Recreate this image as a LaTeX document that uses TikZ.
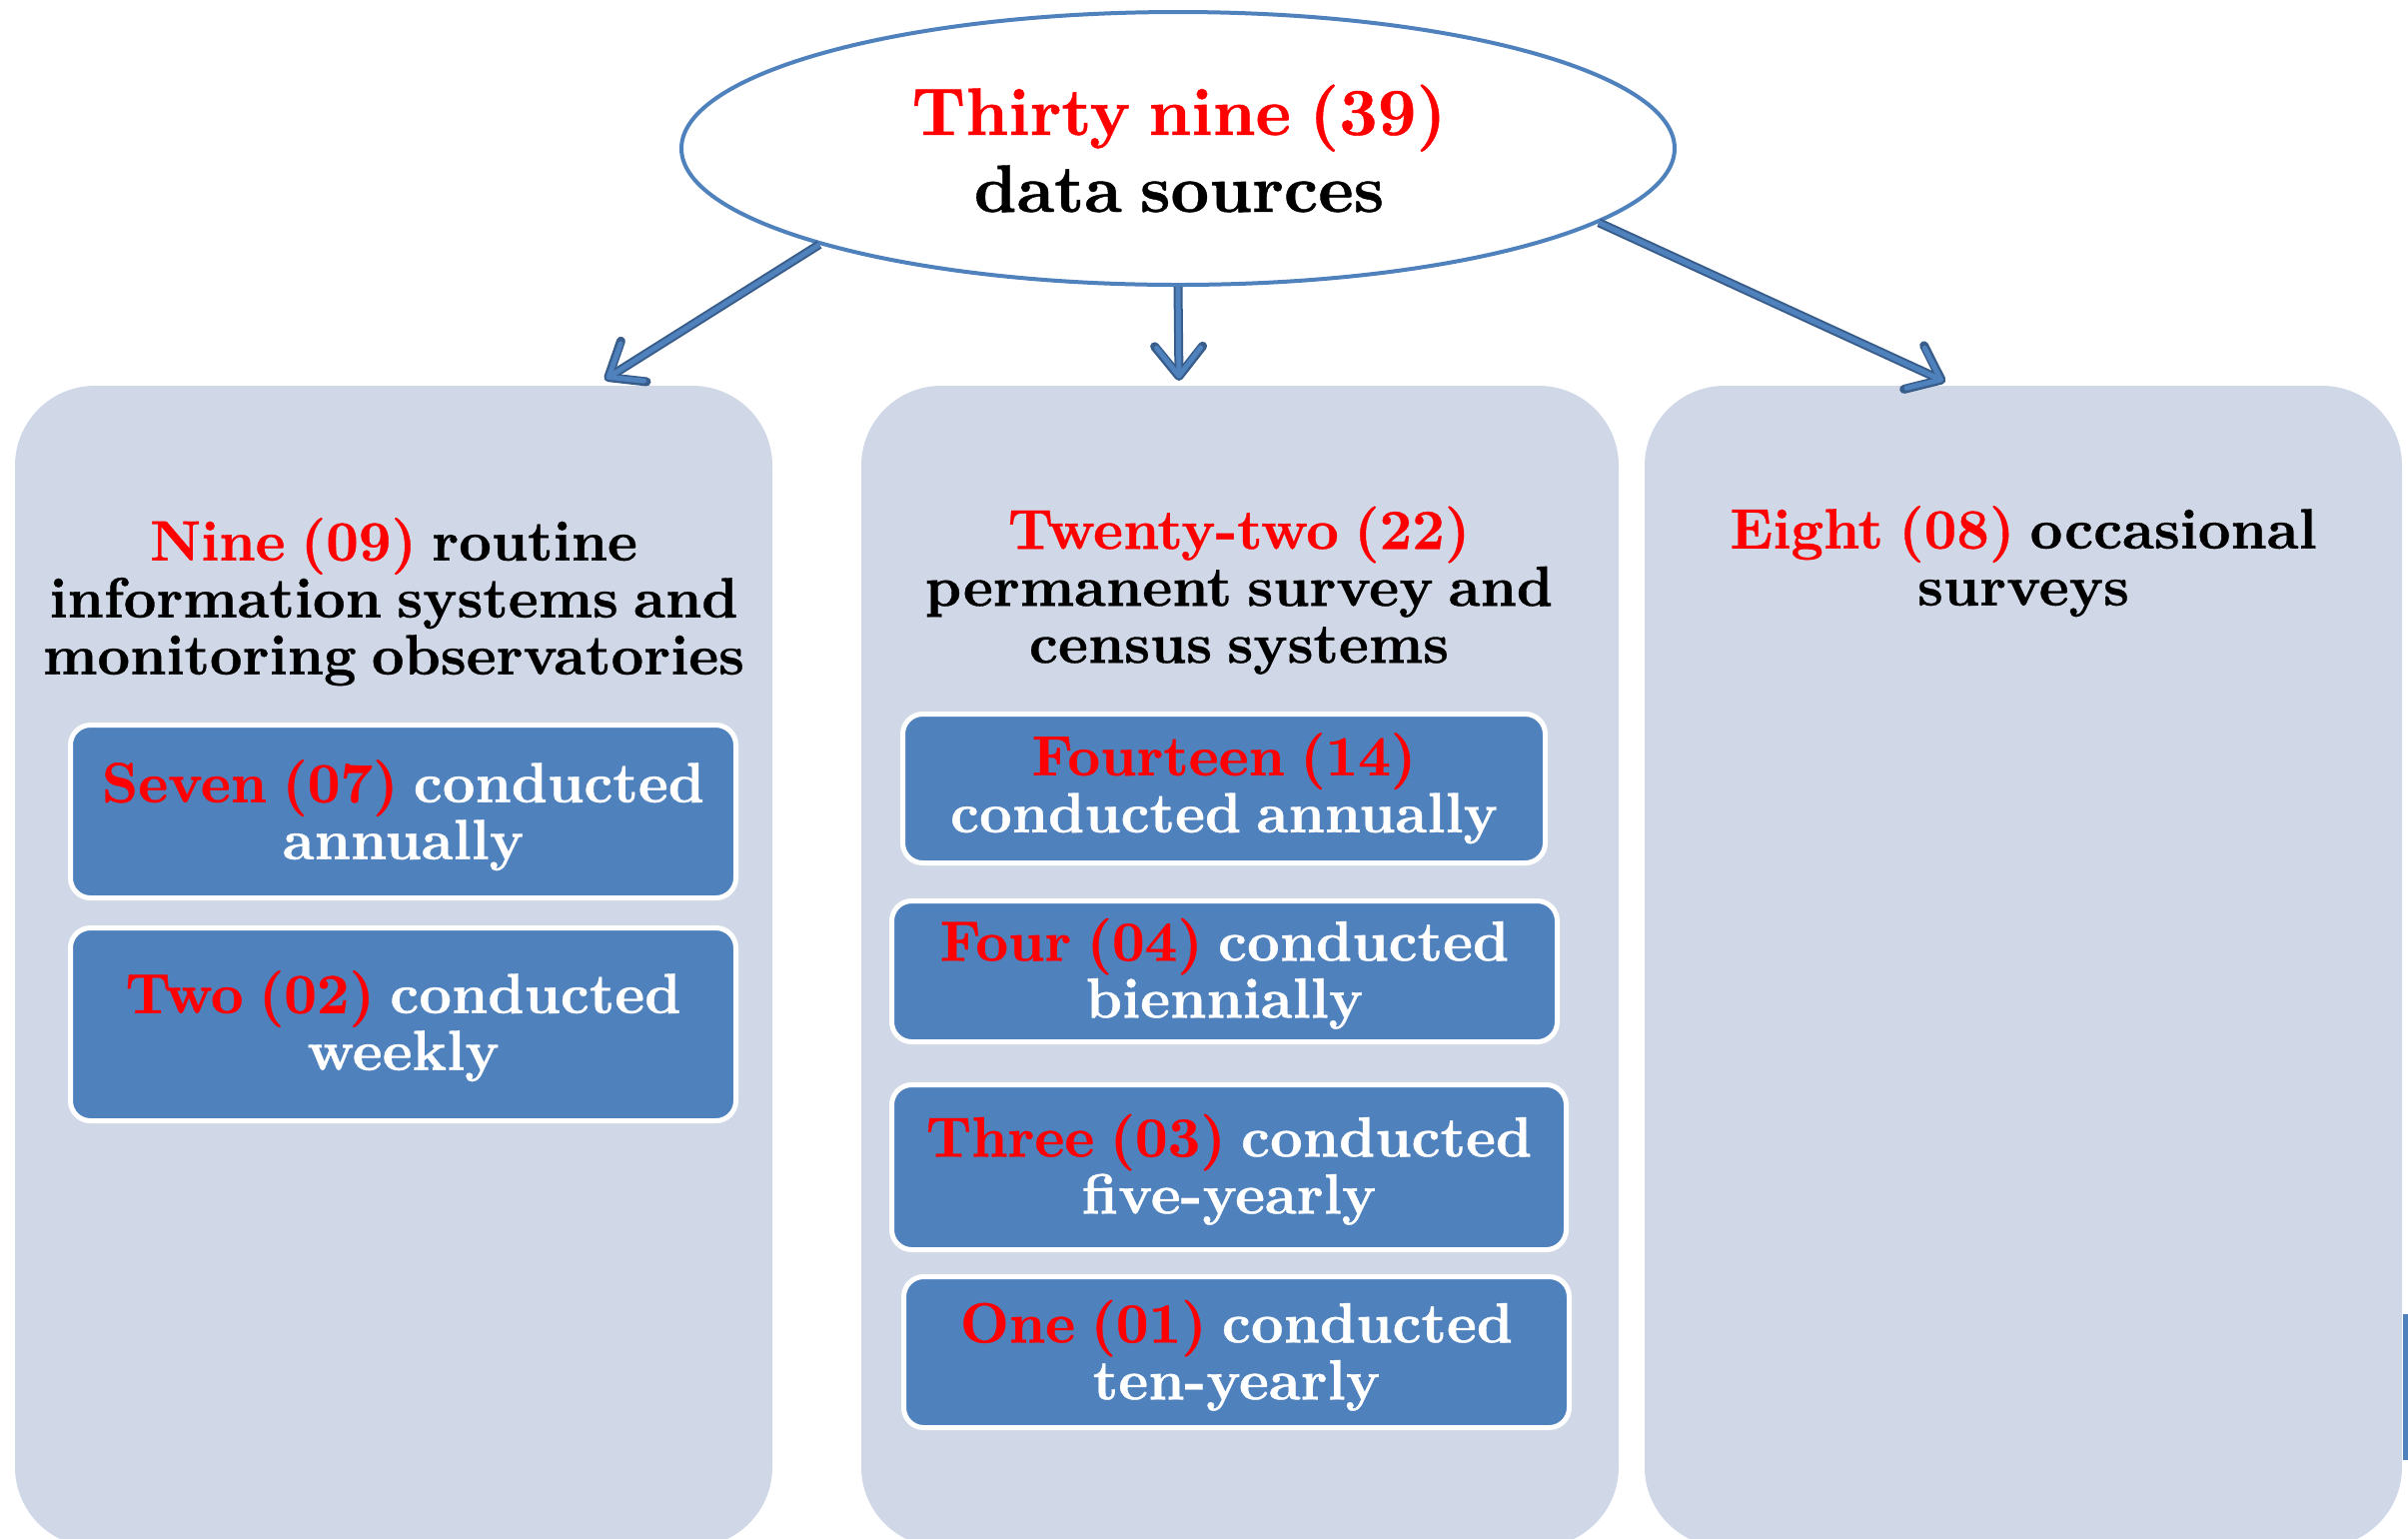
\documentclass[tikz,border=0pt]{standalone}
\usepackage{fontspec}
\usetikzlibrary{arrows.meta,shapes.geometric}
\newfontfamily\heavyfont{lmroman10-bold}[Extension=.otf, FakeBold=0.6]
\definecolor{panelbg}{HTML}{D0D8E8}
\definecolor{boxblue}{HTML}{4F81BD}
\definecolor{arrowdark}{HTML}{385D8A}
\definecolor{numred}{HTML}{FF0000}
\newcommand{\nr}[1]{\textcolor{numred}{#1}}
\newcommand{\panelfont}{\heavyfont\fontsize{28.4}{28.5}\selectfont\spaceskip=.27em\relax}
\newcommand{\titlefont}{\heavyfont\fontsize{33.6}{38.5}\selectfont\spaceskip=.27em\relax}
\begin{document}
\begin{tikzpicture}[x=0.5pt,y=-0.5pt,
  panel/.style={rectangle, fill=panelbg, rounded corners=40pt, minimum width=379pt, minimum height=581pt, inner sep=0pt},
  subbox/.style={rectangle, fill=boxblue, draw=white, line width=2.5pt, rounded corners=10pt, inner sep=0pt},
  hdr/.style={align=center, inner sep=0pt, font=\panelfont, text=black},
  boxtxt/.style={hdr, text=white},
  toptxt/.style={align=center, inner sep=0pt, font=\titlefont, text=black},
  arrowout/.style={draw=arrowdark, line width=4.5pt, -{Straight Barb[length=15pt,width=24pt,round]}},
  arrowin/.style={draw=boxblue, line width=2.5pt, -{Straight Barb[length=14pt,width=22pt,round]}, shorten >=1.2pt}]
\useasboundingbox (0,0) rectangle (2410,1539);
\clip (0,0) rectangle (2410,1539);

% panels
\node[panel] (pL) at (394,967) {};
\node[panel] (pM) at (1241,967) {};
\node[panel] (pR) at (2025,967) {};

% cropped blue shape at right edge
\fill[boxblue] (2405,1315) rectangle (2412,1461);

% top ellipse
\node[ellipse, draw=boxblue, line width=2pt, fill=white, minimum width=497pt, minimum height=136.5pt, inner sep=0pt] (top) at (1179,148.5) {};
\node[toptxt] (toptext) at (1180,158.1) {\strut\nr{Thirty nine (39)}\\\strut data sources};

% arrow end points
\coordinate (tipL) at (605,380);
\coordinate (tipM) at (1180,381);
\coordinate (tipR) at (1947,382);
\foreach \a/\t in {195.6/tipL, 270/tipM, 350.3/tipR}{
  \draw[arrowout] (top.\a) -- (\t);
  \draw[arrowin] (top.\a) -- (\t);
}

% headers
\node[hdr] (hL) at (394,605) {\strut\nr{Nine (09)} routine\\\strut information systems and\\\strut monitoring observatories};
\node[hdr] (hM) at (1240,593.5) {\strut\nr{Twenty-two (22)}\\\strut permanent survey and\\\strut census systems};
\node[hdr] (hR) at (2025,564.5) {\strut\nr{Eight (08)} occasional\\\strut surveys};

% left sub-boxes
\node[subbox, minimum width=333pt, minimum height=86.5pt] (b1) at (403.5,812) {};
\node[subbox, minimum width=333pt, minimum height=96.5pt] (b2) at (403.5,1025) {};
\node[boxtxt] (b1t) at (403.5,818.5) {\strut\nr{Seven (07)} conducted\\\strut annually};
\node[boxtxt] (b2t) at (403.5,1029.5) {\strut\nr{Two (02)} conducted\\\strut weekly};

% middle sub-boxes
\node[subbox, minimum width=321.5pt, minimum height=74.5pt] (m1) at (1225,789) {};
\node[subbox, minimum width=333pt, minimum height=70.5pt] (m2) at (1225.5,972) {};
\node[subbox, minimum width=337.5pt, minimum height=82.5pt] (m3) at (1230,1168) {};
\node[subbox, minimum width=333pt, minimum height=75.5pt] (m4) at (1237.5,1353) {};
\node[boxtxt] (m1t) at (1225,791.6) {\strut\nr{Fourteen (14)}\\\strut conducted annually};
\node[boxtxt] (m2t) at (1225.5,977.1) {\strut\nr{Four (04)} conducted\\\strut biennially};
\node[boxtxt] (m3t) at (1230,1173.1) {\strut\nr{Three (03)} conducted\\\strut five-yearly};
\node[boxtxt] (m4t) at (1237.5,1359.1) {\strut\nr{One (01)} conducted\\\strut ten-yearly};
\end{tikzpicture}
\end{document}
